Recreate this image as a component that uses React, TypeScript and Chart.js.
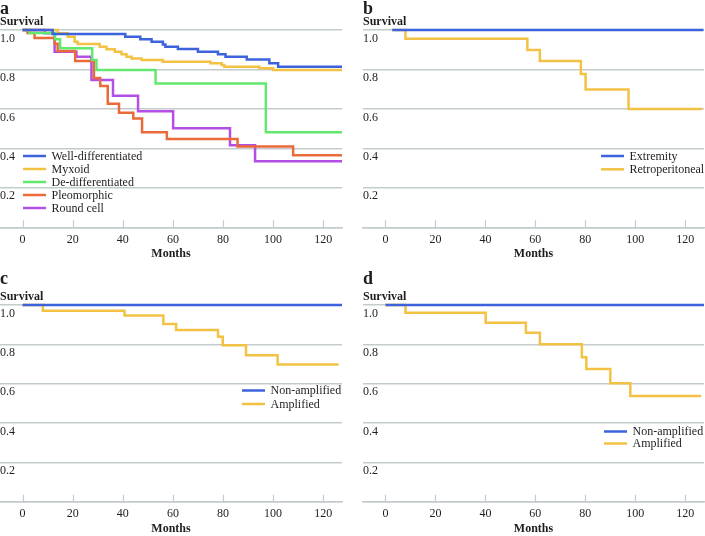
import React, { useEffect, useRef } from 'react';
import { Chart, registerables } from 'chart.js';

Chart.register(...registerables);

const FONT = '"Liberation Serif", "Times New Roman", serif';
const GRID = '#c3cbce';
const TEXT = '#1e1e1e';
const BLUE = '#3d63dc';
const YELLOW = '#f3c244';
const GREEN = '#63e86f';
const ORANGE = '#ea6a3a';
const PURPLE = '#b34fe4';

// Axis ticks
const monthTicks = [0, 20, 40, 60, 80, 100, 120];
const survivalTicks = [0, 0.2, 0.4, 0.6, 0.8, 1.0];

// Panel a – histologic subtype
const wellDiffMonths = [0, 12, 41, 47, 51.5, 56, 57, 62, 70, 78, 81, 89.5, 98.5, 102, 127.5];
const wellDiffSurv = [1.0, 0.98, 0.966, 0.953, 0.941, 0.927, 0.915, 0.904, 0.89, 0.877, 0.864, 0.851, 0.831, 0.814, 0.814];
const myxoidMonths = [0, 14, 18, 20.8, 22, 30.8, 33.5, 36.8, 39.5, 41.5, 43.5, 47.5, 56, 75, 79.5, 80.5, 94.5, 100, 127.5];
const myxoidSurv = [1.0, 0.983, 0.966, 0.941, 0.929, 0.915, 0.902, 0.89, 0.877, 0.864, 0.856, 0.848, 0.839, 0.831, 0.822, 0.814, 0.806, 0.797, 0.797];
const dediffMonths = [0, 2.8, 13, 15, 27.8, 29.5, 53.1, 97.1, 127.5];
const dediffSurv = [1.0, 0.985, 0.953, 0.907, 0.848, 0.797, 0.729, 0.482, 0.482];
const pleoMonths = [0, 2, 4.8, 12.8, 14, 21, 28.5, 31, 34, 38.5, 44.2, 47.7, 57.6, 85.8, 108, 127.5];
const pleoSurv = [1.0, 0.985, 0.96, 0.93, 0.893, 0.843, 0.757, 0.716, 0.626, 0.58, 0.552, 0.482, 0.447, 0.41, 0.365, 0.365];
const roundMonths = [0, 8.8, 12.8, 21.5, 27.5, 36.1, 46.1, 60.1, 82.8, 92.8, 127.5];
const roundSurv = [1.0, 0.983, 0.89, 0.864, 0.746, 0.667, 0.588, 0.502, 0.416, 0.335, 0.335];

// Panel b – location
const extremityMonths = [2.7, 127.3];
const extremitySurv = [1.0, 1.0];
const retroMonths = [2.7, 8, 56.8, 61.8, 78.2, 80.1, 97.3, 126.8];
const retroSurv = [1.0, 0.956, 0.899, 0.843, 0.777, 0.699, 0.6, 0.6];

// Panel c – amplification (c)
const cNonAmpMonths = [0, 127.5];
const cNonAmpSurv = [1.0, 1.0];
const cAmpMonths = [0, 8.1, 40.7, 56.2, 61.3, 78, 79.9, 89.2, 101.8, 126.1];
const cAmpSurv = [1.0, 0.971, 0.946, 0.903, 0.873, 0.839, 0.795, 0.744, 0.697, 0.697];

// Panel d – amplification (d)
const dNonAmpMonths = [0, 127.5];
const dNonAmpSurv = [1.0, 1.0];
const dAmpMonths = [0, 8, 40.1, 56.2, 61.8, 78.6, 80.4, 90, 98, 126.4];
const dAmpSurv = [1.0, 0.961, 0.91, 0.859, 0.8, 0.734, 0.675, 0.602, 0.537, 0.537];

type Series = { label: string; months: number[]; surv: number[]; color: string };

type PanelProps = {
  letter: string;
  series: Series[];
  left: number;
  top: number;
  width: number;
  height: number;
  padding: { left: number; right: number; top: number; bottom: number };
  legend: { x: number; y: number; gap: number };
};

const decorPlugin = {
  id: 'decor',
  afterDraw(chart: any, _args: any, opts: any) {
    const { ctx, chartArea, scales } = chart;
    ctx.save();
    ctx.fillStyle = TEXT;
    ctx.textAlign = 'left';
    ctx.textBaseline = 'alphabetic';
    ctx.font = `bold 18px ${FONT}`;
    ctx.fillText(opts.letter, chartArea.left, 13.5);
    ctx.font = `bold 12px ${FONT}`;
    ctx.fillText('Survival', chartArea.left, chartArea.top - 5.5);

    // tick marks pointing up from the axis
    const xs = scales.x;
    ctx.strokeStyle = GRID;
    ctx.lineWidth = 1.2;
    xs.ticks.forEach((t: any) => {
      const px = Math.round(xs.getPixelForValue(t.value)) + 0.5;
      ctx.beginPath();
      ctx.moveTo(px, chartArea.bottom);
      ctx.lineTo(px, chartArea.bottom - 7);
      ctx.stroke();
    });

    // legend
    ctx.textBaseline = 'middle';
    ctx.font = `12px ${FONT}`;
    chart.data.datasets.forEach((ds: any, i: number) => {
      const y = opts.legY + i * opts.legGap;
      ctx.strokeStyle = ds.borderColor;
      ctx.lineWidth = 2.5;
      ctx.beginPath();
      ctx.moveTo(opts.legX, y);
      ctx.lineTo(opts.legX + 23, y);
      ctx.stroke();
      ctx.fillStyle = TEXT;
      ctx.fillText(ds.label, opts.legX + 28.5, y + 0.5);
    });
    ctx.restore();
  },
};

function Panel(p: PanelProps) {
  const ref = useRef<HTMLCanvasElement>(null);
  useEffect(() => {
    const canvas = ref.current!;
    const chart = new Chart(canvas, {
      type: 'line',
      data: {
        datasets: p.series.map((s) => ({
          label: s.label,
          data: s.months.map((m, i) => ({ x: m, y: s.surv[i] })),
          borderColor: s.color,
          backgroundColor: s.color,
          borderWidth: 2.5,
          pointRadius: 0,
          stepped: 'before' as const,
          fill: false,
          clip: 4,
        })),
      },
      options: {
        animation: false,
        responsive: false,
        devicePixelRatio: 1,
        layout: { padding: p.padding },
        plugins: {
          legend: { display: false },
          tooltip: { enabled: false },
          decor: { letter: p.letter, legX: p.legend.x, legY: p.legend.y, legGap: p.legend.gap },
        } as any,
        scales: {
          x: {
            type: 'linear',
            min: -9,
            max: 127.5,
            afterBuildTicks: (s: any) => {
              s.ticks = monthTicks.map((v) => ({ value: v }));
            },
            afterFit: (s: any) => {
              s.height = 34;
            },
            grid: { display: false, drawTicks: false },
            border: { display: true, color: GRID, width: 1.5 },
            ticks: {
              padding: 5,
              color: TEXT,
              font: { family: FONT, size: 12 },
              maxRotation: 0,
            },
            title: {
              display: true,
              text: 'Months',
              color: TEXT,
              font: { family: FONT, size: 12, weight: 'bold' },
              padding: { top: 0, bottom: 0 },
            },
          },
          y: {
            type: 'linear',
            min: 0,
            max: 1,
            afterBuildTicks: (s: any) => {
              s.ticks = survivalTicks.map((v) => ({ value: v }));
            },
            afterFit: (s: any) => {
              s.width = 0;
            },
            grid: { color: GRID, lineWidth: 1.5, drawTicks: false },
            border: { display: false },
            ticks: {
              mirror: true,
              padding: 0,
              labelOffset: 8.5,
              color: TEXT,
              font: { family: FONT, size: 12 },
              callback: (v: any) => (Number(v) === 0 ? '' : Number(v).toFixed(1)),
            },
          },
        },
      },
      plugins: [decorPlugin],
    });
    return () => chart.destroy();
  }, []);
  return (
    <canvas
      ref={ref}
      width={p.width}
      height={p.height}
      style={{ position: 'absolute', left: p.left, top: p.top, width: p.width, height: p.height, display: 'block' }}
    />
  );
}

export default function App() {
  return (
    <div style={{ position: 'fixed', left: 0, top: 0, width: 705, height: 536, background: '#fff', overflow: 'hidden' }}>
      <Panel
        letter="a"
        left={0}
        top={0}
        width={350}
        height={268}
        padding={{ left: 0, right: 8, top: 30, bottom: 6.7 }}
        legend={{ x: 23, y: 156, gap: 13 }}
        series={[
          { label: 'Well-differentiated', months: wellDiffMonths, surv: wellDiffSurv, color: BLUE },
          { label: 'Myxoid', months: myxoidMonths, surv: myxoidSurv, color: YELLOW },
          { label: 'De-differentiated', months: dediffMonths, surv: dediffSurv, color: GREEN },
          { label: 'Pleomorphic', months: pleoMonths, surv: pleoSurv, color: ORANGE },
          { label: 'Round cell', months: roundMonths, surv: roundSurv, color: PURPLE },
        ]}
      />
      <Panel
        letter="b"
        left={350}
        top={0}
        width={355}
        height={268}
        padding={{ left: 13, right: 1, top: 30, bottom: 6.7 }}
        legend={{ x: 251, y: 156, gap: 13.3 }}
        series={[
          { label: 'Extremity', months: extremityMonths, surv: extremitySurv, color: BLUE },
          { label: 'Retroperitoneal', months: retroMonths, surv: retroSurv, color: YELLOW },
        ]}
      />
      <Panel
        letter="c"
        left={0}
        top={270}
        width={350}
        height={266}
        padding={{ left: 0, right: 8, top: 35, bottom: 0.3 }}
        legend={{ x: 242, y: 120.5, gap: 13.5 }}
        series={[
          { label: 'Non-amplified', months: cNonAmpMonths, surv: cNonAmpSurv, color: BLUE },
          { label: 'Amplified', months: cAmpMonths, surv: cAmpSurv, color: YELLOW },
        ]}
      />
      <Panel
        letter="d"
        left={350}
        top={270}
        width={355}
        height={266}
        padding={{ left: 13, right: 1, top: 35, bottom: 0.3 }}
        legend={{ x: 254, y: 161.5, gap: 12 }}
        series={[
          { label: 'Non-amplified', months: dNonAmpMonths, surv: dNonAmpSurv, color: BLUE },
          { label: 'Amplified', months: dAmpMonths, surv: dAmpSurv, color: YELLOW },
        ]}
      />
    </div>
  );
}
